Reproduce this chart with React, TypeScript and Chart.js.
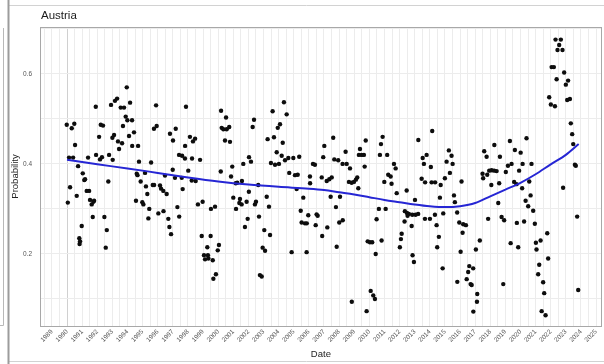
import { useEffect, useRef } from "react";
import { Chart, registerables } from "chart.js";

Chart.register(...registerables);

// Monthly probability estimates, [decimal year, probability]
const pts1990s: [number, number][] = [
  [1989.98, 0.487], [1990.31, 0.479], [1990.48, 0.489], [1990.53, 0.442], [1990.13, 0.414], [1990.40, 0.414],
  [1990.73, 0.395], [1991.39, 0.414], [1991.90, 0.527], [1991.92, 0.420], [1992.18, 0.410], [1992.31, 0.415],
  [1992.12, 0.460], [1992.23, 0.487], [1992.38, 0.485], [1992.78, 0.420], [1992.91, 0.531], [1993.00, 0.458],
  [1993.02, 0.409], [1993.11, 0.464], [1993.17, 0.540], [1993.31, 0.545], [1993.37, 0.450], [1993.64, 0.446],
  [1993.44, 0.433], [1993.55, 0.525], [1993.77, 0.525], [1993.70, 0.484], [1993.88, 0.505], [1993.99, 0.497],
  [1994.30, 0.497], [1993.95, 0.570], [1994.17, 0.536], [1994.10, 0.462], [1994.43, 0.470], [1994.31, 0.440],
  [1994.70, 0.440], [1994.76, 0.405], [1995.56, 0.403], [1995.75, 0.478], [1995.93, 0.484], [1995.89, 0.530],
  [1996.81, 0.467], [1997.01, 0.452], [1997.19, 0.478], [1997.41, 0.420], [1997.61, 0.418], [1997.80, 0.412],
  [1998.27, 0.412], [1997.87, 0.527], [1997.81, 0.440], [1998.13, 0.460], [1998.33, 0.450], [1998.47, 0.456],
  [1998.80, 0.409], [1990.20, 0.348], [1990.05, 0.314], [1990.64, 0.329], [1991.04, 0.379], [1991.14, 0.364],
  [1991.19, 0.366], [1991.30, 0.340], [1991.46, 0.340], [1991.52, 0.320], [1991.63, 0.310], [1991.74, 0.316],
  [1991.79, 0.318], [1990.97, 0.262], [1990.81, 0.235], [1990.86, 0.228], [1990.83, 0.222], [1991.70, 0.282],
  [1992.47, 0.282], [1992.63, 0.253], [1992.56, 0.214], [1992.73, 0.361], [1994.61, 0.378], [1994.66, 0.375],
  [1995.16, 0.380], [1994.87, 0.361], [1995.22, 0.350], [1995.67, 0.353], [1995.76, 0.353], [1996.15, 0.352],
  [1996.22, 0.345], [1996.37, 0.340], [1995.31, 0.333], [1994.56, 0.318], [1994.98, 0.315], [1995.05, 0.310],
  [1995.44, 0.300], [1995.38, 0.279], [1996.04, 0.290], [1996.38, 0.295], [1996.59, 0.333], [1996.48, 0.374],
  [1996.70, 0.278], [1996.77, 0.260], [1996.88, 0.244], [1996.99, 0.387], [1997.14, 0.369], [1997.59, 0.369],
  [1997.30, 0.304], [1997.42, 0.283], [1997.65, 0.344], [1998.02, 0.385], [1998.25, 0.363], [1998.51, 0.362],
  [1998.66, 0.310], [1998.97, 0.316], [1998.91, 0.240], [1999.50, 0.240], [1999.52, 0.300], [1999.79, 0.305],
  [1999.97, 0.208], [1999.28, 0.215], [1999.06, 0.197], [1999.32, 0.197], [1999.13, 0.188], [1999.35, 0.190],
  [1999.64, 0.186], [1999.85, 0.155], [1999.68, 0.145],
];

const pts2000s: [number, number][] = [
  [2000.05, 0.220], [2000.17, 0.383], [2000.19, 0.518], [2000.52, 0.503], [2000.23, 0.480], [2000.34, 0.477],
  [2000.56, 0.477], [2000.73, 0.482], [2000.45, 0.452], [2000.78, 0.449], [2000.93, 0.394], [2000.85, 0.372],
  [2001.66, 0.400], [2001.00, 0.325], [2001.44, 0.322], [2001.40, 0.313], [2001.55, 0.310], [2001.88, 0.316],
  [2001.16, 0.357], [2001.26, 0.358], [2001.57, 0.362], [2001.18, 0.300], [2002.04, 0.415], [2002.17, 0.405],
  [2002.37, 0.498], [2002.28, 0.482], [2002.03, 0.338], [2001.95, 0.278], [2001.77, 0.260], [2002.43, 0.310],
  [2002.50, 0.316], [2002.70, 0.283], [2002.65, 0.353], [2003.05, 0.253], [2003.43, 0.242], [2003.21, 0.327],
  [2003.36, 0.305], [2002.94, 0.214], [2003.10, 0.207], [2002.76, 0.153], [2002.88, 0.150], [2003.27, 0.455],
  [2003.60, 0.517], [2003.69, 0.459], [2003.49, 0.402], [2003.76, 0.398], [2004.02, 0.400], [2003.87, 0.426],
  [2004.20, 0.418], [2003.94, 0.480], [2004.09, 0.488], [2004.35, 0.537], [2004.53, 0.510], [2004.27, 0.447],
  [2004.42, 0.408], [2004.64, 0.413], [2004.97, 0.413], [2005.36, 0.416], [2004.70, 0.380], [2005.08, 0.375],
  [2005.26, 0.376], [2005.19, 0.344], [2004.86, 0.204], [2005.63, 0.325], [2005.85, 0.204], [2005.46, 0.296],
  [2005.96, 0.286], [2005.52, 0.270], [2005.74, 0.268], [2005.86, 0.268], [2006.07, 0.372], [2006.08, 0.357],
  [2006.27, 0.400], [2006.40, 0.398], [2006.51, 0.288], [2006.58, 0.285], [2006.45, 0.264], [2006.85, 0.370],
  [2007.18, 0.362], [2007.35, 0.366], [2007.51, 0.370], [2006.95, 0.415], [2007.02, 0.440], [2007.22, 0.259],
  [2006.88, 0.240], [2007.44, 0.327], [2007.61, 0.458], [2007.68, 0.410], [2007.94, 0.408], [2008.23, 0.400],
  [2008.50, 0.400], [2008.43, 0.427], [2008.72, 0.390], [2008.65, 0.360], [2008.83, 0.358], [2008.98, 0.360],
  [2009.11, 0.365], [2009.20, 0.370], [2008.06, 0.327], [2007.79, 0.304], [2008.01, 0.270], [2008.24, 0.275],
  [2007.84, 0.216], [2008.84, 0.094], [2009.27, 0.346], [2009.38, 0.433], [2009.31, 0.420], [2009.49, 0.420],
  [2009.64, 0.420], [2009.76, 0.452], [2009.69, 0.394], [2009.89, 0.228], [2009.82, 0.073],
];

const pts2010s: [number, number][] = [
  [2010.04, 0.226], [2010.19, 0.226], [2010.48, 0.277], [2010.63, 0.300], [2011.08, 0.300], [2010.42, 0.200],
  [2010.81, 0.230], [2010.09, 0.118], [2010.26, 0.108], [2010.37, 0.100], [2010.99, 0.360], [2011.47, 0.356],
  [2010.70, 0.420], [2010.77, 0.444], [2010.88, 0.460], [2011.18, 0.420], [2011.63, 0.400], [2011.74, 0.390],
  [2011.25, 0.376], [2011.41, 0.372], [2011.81, 0.335], [2012.47, 0.341], [2012.35, 0.295], [2012.49, 0.291],
  [2012.62, 0.289], [2012.53, 0.285], [2012.84, 0.287], [2013.06, 0.287], [2013.23, 0.289], [2013.68, 0.278],
  [2014.01, 0.278], [2014.34, 0.287], [2014.89, 0.290], [2013.02, 0.320], [2012.33, 0.272], [2012.80, 0.262],
  [2012.14, 0.245], [2012.09, 0.233], [2012.02, 0.215], [2012.86, 0.197], [2012.95, 0.182], [2013.46, 0.367],
  [2013.69, 0.359], [2014.12, 0.359], [2014.35, 0.359], [2014.72, 0.353], [2014.67, 0.325], [2015.00, 0.368],
  [2015.33, 0.380], [2015.60, 0.330], [2015.66, 0.315], [2014.45, 0.264], [2014.60, 0.238], [2014.49, 0.215],
  [2014.85, 0.168], [2015.81, 0.292], [2015.95, 0.270], [2016.21, 0.266], [2016.39, 0.264], [2016.10, 0.361],
  [2016.17, 0.247], [2016.04, 0.205], [2015.82, 0.138], [2016.44, 0.144], [2016.54, 0.160], [2016.61, 0.173],
  [2016.87, 0.168], [2016.70, 0.133], [2016.77, 0.131], [2017.14, 0.111], [2017.12, 0.094], [2016.88, 0.072],
  [2017.05, 0.210], [2017.31, 0.230], [2017.49, 0.378], [2017.53, 0.368], [2017.80, 0.376], [2017.93, 0.385],
  [2018.09, 0.386], [2018.26, 0.385], [2018.42, 0.384], [2018.07, 0.353], [2017.86, 0.278], [2018.53, 0.313],
  [2018.59, 0.357], [2018.75, 0.282], [2018.92, 0.275], [2018.86, 0.133], [2019.03, 0.382], [2019.58, 0.360],
  [2019.74, 0.355], [2019.35, 0.224], [2019.76, 0.269], [2019.85, 0.215], [2019.91, 0.385], [2013.24, 0.453],
  [2014.16, 0.473], [2013.53, 0.413], [2013.61, 0.400], [2013.79, 0.420], [2014.07, 0.393], [2015.26, 0.430],
  [2015.44, 0.418], [2015.11, 0.405], [2015.51, 0.400], [2017.60, 0.428], [2017.76, 0.416], [2018.27, 0.442],
  [2018.64, 0.416], [2019.17, 0.396], [2019.41, 0.400], [2019.30, 0.451], [2019.63, 0.431],
];

const pts2020s: [number, number][] = [
  [2020.01, 0.425], [2020.14, 0.400], [2020.73, 0.400], [2020.40, 0.457], [2020.24, 0.272], [2020.58, 0.361],
  [2020.11, 0.346], [2020.34, 0.318], [2020.51, 0.306], [2020.67, 0.330], [2020.84, 0.296], [2020.95, 0.267],
  [2021.77, 0.246], [2021.33, 0.230], [2021.02, 0.225], [2021.06, 0.210], [2021.83, 0.190], [2021.24, 0.176],
  [2021.17, 0.155], [2021.50, 0.137], [2021.57, 0.113], [2021.40, 0.073], [2021.66, 0.064], [2021.90, 0.548],
  [2022.01, 0.532], [2022.06, 0.615], [2022.21, 0.615], [2022.28, 0.528], [2022.32, 0.676], [2022.39, 0.588],
  [2022.45, 0.653], [2022.56, 0.664], [2022.67, 0.676], [2022.78, 0.653], [2022.82, 0.347], [2022.89, 0.603],
  [2023.00, 0.576], [2023.09, 0.542], [2023.15, 0.585], [2023.27, 0.544], [2023.33, 0.490], [2023.42, 0.466],
  [2023.49, 0.444], [2023.60, 0.398], [2023.66, 0.396], [2023.75, 0.283], [2023.82, 0.120],
];

// Smoothed trend
const smoothYears = [
  1990, 1992, 1994, 1996, 1998, 2000, 2002, 2004, 2006, 2007, 2008, 2009, 2010, 2011, 2012,
  2013, 2014, 2015, 2016, 2017, 2018, 2019, 2020, 2021, 2022, 2023, 2023.85,
];
const smoothProb = [
  0.409, 0.399, 0.390, 0.380, 0.370, 0.361, 0.354, 0.349, 0.345, 0.342, 0.337, 0.332, 0.326, 0.320, 0.315,
  0.310, 0.306, 0.304, 0.306, 0.313, 0.328, 0.343, 0.358, 0.377, 0.399, 0.420, 0.444,
];

const countryName = "Austria";
const firstYearLabel = 1989;
const lastYearLabel = 2025;
const probLabels = [0.2, 0.4, 0.6];

const FONT = "'Liberation Sans', Arial, Helvetica, sans-serif";

const framePlugin = {
  id: "frame",
  beforeDraw(chart: any) {
    const { ctx, width, height } = chart;
    ctx.save();
    ctx.fillStyle = "#ffffff";
    ctx.fillRect(0, 0, width, height);
    // outer panel edges
    ctx.strokeStyle = "#d2d2d2";
    ctx.lineWidth = 1;
    ctx.beginPath();
    ctx.moveTo(9, 5.5);
    ctx.lineTo(width, 5.5);
    ctx.moveTo(9, 361.5);
    ctx.lineTo(width, 361.5);
    ctx.stroke();
    ctx.strokeStyle = "#9c9c9c";
    ctx.lineWidth = 2;
    ctx.beginPath();
    ctx.moveTo(8.5, 0);
    ctx.lineTo(8.5, height);
    ctx.stroke();
    ctx.strokeStyle = "#b8b8b8";
    ctx.lineWidth = 1;
    ctx.beginPath();
    ctx.moveTo(3.5, 28);
    ctx.lineTo(3.5, 325.5);
    ctx.lineTo(0, 325.5);
    ctx.stroke();
    // panel title
    ctx.fillStyle = "#1a1a1a";
    ctx.font = `11.5px ${FONT}`;
    ctx.textAlign = "left";
    ctx.textBaseline = "alphabetic";
    ctx.fillText(countryName, 41, 19);
    ctx.restore();
  },
  afterDraw(chart: any) {
    const { ctx, chartArea } = chart;
    ctx.save();
    ctx.strokeStyle = "#a8a8a8";
    ctx.lineWidth = 1;
    ctx.strokeRect(
      Math.round(chartArea.left) + 0.5,
      Math.round(chartArea.top) + 0.5,
      Math.round(chartArea.right - chartArea.left) - 1,
      Math.round(chartArea.bottom - chartArea.top)
    );
    ctx.restore();
  },
};

export default function App() {
  const canvasRef = useRef<HTMLCanvasElement>(null);

  useEffect(() => {
    const points = [...pts1990s, ...pts2000s, ...pts2010s, ...pts2020s].map(([x, y]) => ({ x, y }));
    const trend = smoothYears.map((x, i) => ({ x, y: smoothProb[i] }));

    const chart = new Chart(canvasRef.current as HTMLCanvasElement, {
      type: "scatter",
      data: {
        datasets: [
          {
            type: "line",
            data: trend,
            borderColor: "#2626d4",
            borderWidth: 2,
            pointRadius: 0,
            fill: false,
            cubicInterpolationMode: "monotone",
          } as any,
          {
            data: points,
            pointRadius: 2.2,
            pointHoverRadius: 2.2,
            backgroundColor: "#0d0d0d",
            borderWidth: 0,
          },
        ],
      },
      options: {
        responsive: false,
        animation: false,
        devicePixelRatio: 1,
        layout: { padding: { left: 6, top: 27, right: 2, bottom: 0 } },
        plugins: {
          legend: { display: false },
          tooltip: { enabled: false },
        },
        scales: {
          x: {
            type: "linear",
            min: 1988.21,
            max: 2025.38,
            afterBuildTicks: (scale: any) => {
              const t = [];
              for (let h = firstYearLabel * 2 - 1; h <= lastYearLabel * 2; h++) t.push({ value: h / 2 });
              scale.ticks = t;
            },
            afterFit: (scale: any) => {
              scale.height = 38;
            },
            border: { display: false },
            grid: {
              drawTicks: false,
              lineWidth: 1,
              color: (ctx: any) => (ctx.tick && ctx.tick.value === 1990 ? "#d0d0d0" : "#ececec"),
            },
            ticks: {
              autoSkip: false,
              minRotation: 45,
              maxRotation: 45,
              padding: 2,
              color: "#555555",
              font: { family: FONT, size: 6.5 },
              callback: (v: any) => {
                const n = Number(v);
                return Math.abs(n - Math.round(n)) < 1e-6 ? String(Math.round(n)) : "";
              },
            },
            title: {
              display: true,
              text: "Date",
              color: "#222222",
              font: { family: FONT, size: 9.5 },
              padding: { top: 0, bottom: 4 },
            },
          },
          y: {
            type: "linear",
            min: 0.04,
            max: 0.704,
            afterBuildTicks: (scale: any) => {
              const t = [];
              for (let k = 1; k <= 7; k++) t.push({ value: k / 10 });
              scale.ticks = t;
            },
            afterFit: (scale: any) => {
              scale.width = 34;
            },
            border: { display: false },
            grid: { drawTicks: false, color: "#ececec", lineWidth: 1 },
            ticks: {
              padding: 8,
              color: "#555555",
              font: { family: FONT, size: 6.5 },
              callback: (v: any) => {
                const n = Number(v);
                return probLabels.some((p) => Math.abs(p - n) < 1e-6) ? n.toFixed(1) : "";
              },
            },
            title: {
              display: true,
              text: "Probability",
              color: "#222222",
              font: { family: FONT, size: 9.5 },
              padding: { top: 4, bottom: 0 },
            },
          },
        },
      },
      plugins: [framePlugin],
    });

    return () => chart.destroy();
  }, []);

  return (
    <div style={{ position: "fixed", left: 0, top: 0, width: 604, height: 364, background: "#fff" }}>
      <canvas ref={canvasRef} width={604} height={364} style={{ display: "block", width: 604, height: 364 }} />
    </div>
  );
}
